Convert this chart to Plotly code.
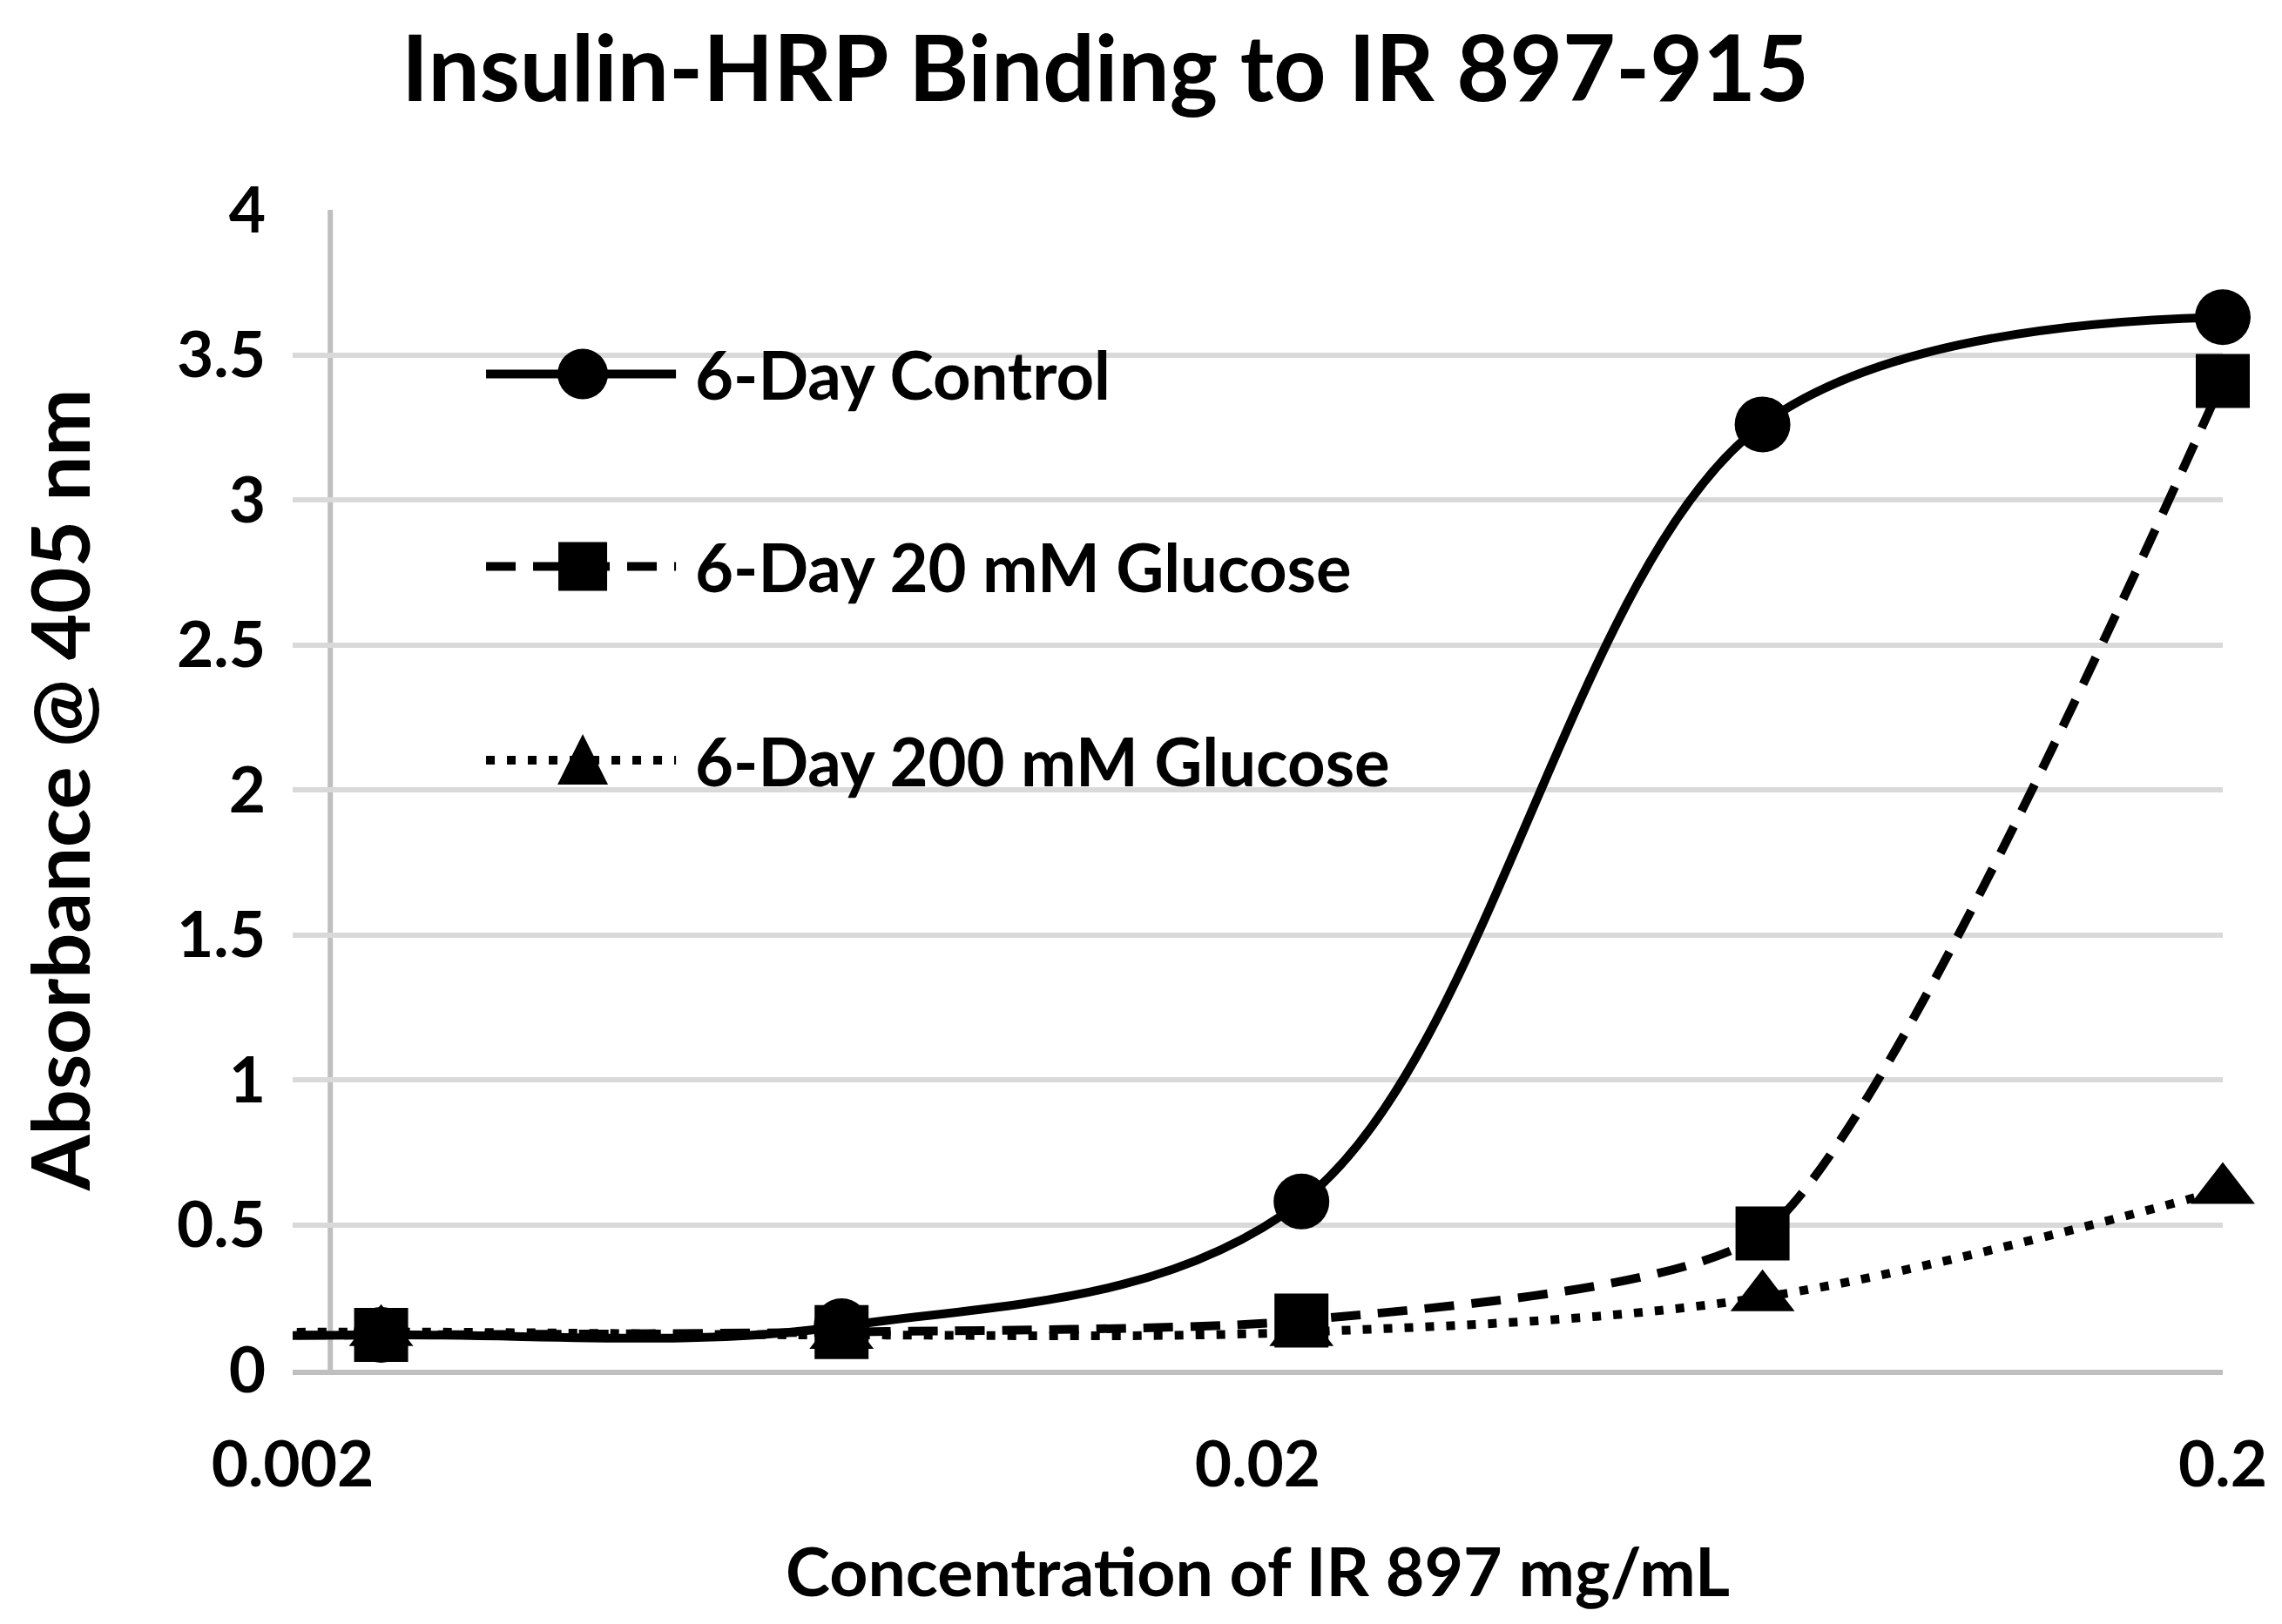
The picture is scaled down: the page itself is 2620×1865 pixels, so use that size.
import plotly.graph_objects as go

# ---- data ----
x_conc = [0.000823, 0.00247, 0.00741, 0.0222, 0.0667, 0.2]
control = [0.12, 0.12, 0.15, 0.58, 3.26, 3.63]
glucose20 = [0.12, 0.12, 0.13, 0.17, 0.47, 3.41]
glucose200 = [0.12, 0.13, 0.12, 0.13, 0.25, 0.62]
series_names = ["6-Day Control", "6-Day 20 mM Glucose", "6-Day 200 mM Glucose"]
x_tickvals = [0.002, 0.02, 0.2]
x_ticktext = ["0.002", "0.02", "0.2"]

FONT = "Lato, 'Liberation Sans', sans-serif"
BLACK = "#000000"

styles = [
    dict(dash="solid", symbol="circle", size=64, smooth=1.0),
    dict(dash="34px,20px", symbol="square", size=62, smooth=0.6),
    dict(dash="10px,14px", symbol="triangle-up", size=64, smooth=1.0),
]
series_values = [control, glucose20, glucose200]

fig = go.Figure()
for name, yv, st in zip(series_names, series_values, styles):
    fig.add_trace(go.Scatter(
        x=x_conc, y=yv, name=name, mode="lines+markers",
        line=dict(color=BLACK, width=10, dash=st["dash"], shape="spline", smoothing=st["smooth"]),
        marker=dict(symbol=st["symbol"], size=st["size"], color=BLACK, line=dict(width=0)),
        cliponaxis=False, showlegend=False,
    ))

# ---- manual legend (long line samples like the original) ----
leg_x0, leg_x1, leg_xm, leg_xt = 0.1002, 0.1986, 0.1503, 0.2075
leg_ys = [0.8585, 0.6925, 0.5255]
shapes = []
annotations = []
for name, st, ly in zip(series_names, styles, leg_ys):
    shapes.append(dict(type="line", xref="paper", yref="paper", x0=leg_x0, x1=leg_x1, y0=ly, y1=ly,
                       line=dict(color=BLACK, width=10, dash=st["dash"]), layer="above"))
    common = dict(xref="paper", yref="paper", xsizemode="pixel", ysizemode="pixel",
                  xanchor=leg_xm, yanchor=ly, fillcolor=BLACK, line=dict(width=0), layer="above")
    if st["symbol"] == "circle":
        shapes.append(dict(type="circle", x0=-29, x1=29, y0=-29, y1=29, **common))
    elif st["symbol"] == "square":
        shapes.append(dict(type="rect", x0=-28, x1=28, y0=-28, y1=28, **common))
    else:
        shapes.append(dict(type="path", path="M-29,-28 L29,-28 L0,30 Z", **common))
    annotations.append(dict(text=name, xref="paper", yref="paper", x=leg_xt, y=ly,
                            xanchor="left", yanchor="middle", showarrow=False,
                            font=dict(family=FONT, size=76, color=BLACK, weight="bold")))

# grey vertical axis line (as in original)
shapes.append(dict(type="line", xref="paper", yref="paper", x0=0.0195, x1=0.0195, y0=0, y1=1,
                   line=dict(color="#bfbfbf", width=6), layer="between"))

fig.update_layout(
    width=2620, height=1865,
    margin=dict(l=328, r=76, t=233, b=300),
    paper_bgcolor="white", plot_bgcolor="white",
    title=dict(text="Insulin-HRP Binding to IR 897-915", x=0.4813, xref="container", xanchor="center",
               y=0.962, yref="container", yanchor="middle",
               font=dict(family=FONT, size=105, color=BLACK, weight="bold")),
    xaxis=dict(type="log", range=[-2.69897, -0.69897], tickvals=x_tickvals, ticktext=x_ticktext,
               showgrid=False, zeroline=False, showline=True, linecolor="#bfbfbf", linewidth=6,
               ticks="", ticklabelstandoff=40,
               tickfont=dict(family=FONT, size=73, color=BLACK, weight="bold"),
               title=dict(text="Concentration of IR 897 mg/mL", standoff=60,
                          font=dict(family=FONT, size=77, color=BLACK, weight="bold"))),
    yaxis=dict(range=[0, 4], dtick=0.5, showgrid=True, gridcolor="#d9d9d9", gridwidth=6,
               zeroline=False, showline=False, ticks="", ticklabelstandoff=30,
               tickfont=dict(family=FONT, size=73, color=BLACK, weight="bold"),
               title=dict(text="Absorbance @ 405 nm", standoff=68,
                          font=dict(family=FONT, size=92, color=BLACK, weight="bold"))),
    shapes=shapes, annotations=annotations,
)

fig.write_html("out.html")
